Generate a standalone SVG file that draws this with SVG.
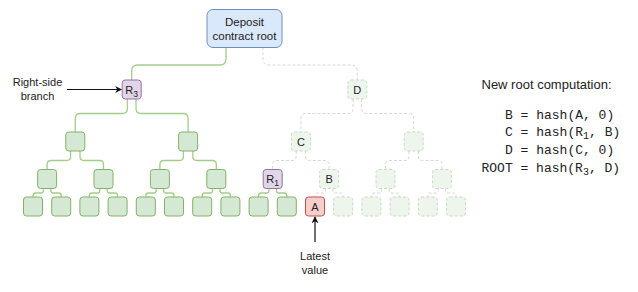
<svg xmlns="http://www.w3.org/2000/svg" width="638" height="292" viewBox="0 0 638 292">
<defs>
<style>
.lbl{font-family:"Liberation Sans",Arial,sans-serif;font-size:11px;fill:#222;text-anchor:middle}
.txt{font-family:"Liberation Sans",Arial,sans-serif;fill:#222}
.mono{font-family:"Liberation Mono","Courier New",monospace;font-size:13px;fill:#222}
.g{fill:#d5e8d4;stroke:#82b366;stroke-width:1}
.f{fill:#eef5ec;stroke:#c6dcbd;stroke-width:1;stroke-dasharray:3 2}
.p{fill:#e1d5e7;stroke:#9673a6;stroke-width:1}
.r{fill:#f8cecc;stroke:#b85450;stroke-width:1}
.root{fill:#dae8fc;stroke:#6c8ebf;stroke-width:1}
.eg{fill:none;stroke:#a3cd8b;stroke-width:1.3}
.ef{fill:none;stroke:#d6d6d6;stroke-width:1;stroke-dasharray:3 2}
.arr{fill:none;stroke:#111;stroke-width:1.2}
</style>
<marker id="ah" viewBox="0 0 10 10" refX="9" refY="5" markerWidth="7" markerHeight="7" orient="auto" markerUnits="userSpaceOnUse">
<path d="M0,0 L10,5 L0,10 L3,5 z" fill="#111"/>
</marker>
</defs>
<rect width="638" height="292" fill="#ffffff"/>

<g id="connectors">
<!-- root -->
<path class="eg" d="M226 47 V59 Q226 65 220 65 H137.7 Q131.7 65 131.7 71 V80"/>
<path class="ef" d="M263 47 V59 Q263 65 269 65 H351.3 Q357.3 65 357.3 71 V80"/>
<!-- level 1 -->
<path class="eg" d="M127.4 99 V108.5 Q127.4 113.5 122.4 113.5 H80.3 Q75.3 113.5 75.3 118.5 V132"/>
<path class="eg" d="M136 99 V108.5 Q136 113.5 141 113.5 H183.1 Q188.1 113.5 188.1 118.5 V132"/>
<path class="ef" d="M353 99 V108.5 Q353 113.5 348 113.5 H305.9 Q300.9 113.5 300.9 118.5 V132"/>
<path class="ef" d="M361.6 99 V108.5 Q361.6 113.5 366.6 113.5 H408.7 Q413.7 113.5 413.7 118.5 V132"/>
<!-- level 2 -->
<path class="eg" d="M70.6 151 V156.5 Q70.6 160.5 66.6 160.5 H51.1 Q47.1 160.5 47.1 164.5 V169.5"/>
<path class="eg" d="M80 151 V156.5 Q80 160.5 84 160.5 H99.5 Q103.5 160.5 103.5 164.5 V169.5"/>
<path class="eg" d="M183.4 151 V156.5 Q183.4 160.5 179.4 160.5 H163.9 Q159.9 160.5 159.9 164.5 V169.5"/>
<path class="eg" d="M192.8 151 V156.5 Q192.8 160.5 196.8 160.5 H212.3 Q216.3 160.5 216.3 164.5 V169.5"/>
<path class="ef" d="M296.2 151 V156.5 Q296.2 160.5 292.2 160.5 H276.7 Q272.7 160.5 272.7 164.5 V169.5"/>
<path class="ef" d="M305.6 151 V156.5 Q305.6 160.5 309.6 160.5 H325.1 Q329.1 160.5 329.1 164.5 V169.5"/>
<path class="ef" d="M409 151 V156.5 Q409 160.5 405 160.5 H389.5 Q385.5 160.5 385.5 164.5 V169.5"/>
<path class="ef" d="M418.4 151 V156.5 Q418.4 160.5 422.4 160.5 H437.9 Q441.9 160.5 441.9 164.5 V169.5"/>
<!-- level 3 -->
<path class="eg" d="M43.4 188.5 V190.5 Q43.4 193 40.9 193 H35.5 Q33 193 33 195.5 V197"/>
<path class="eg" d="M50.8 188.5 V190.5 Q50.8 193 53.3 193 H58.7 Q61.2 193 61.2 195.5 V197"/>
<path class="eg" d="M99.8 188.5 V190.5 Q99.8 193 97.3 193 H91.9 Q89.4 193 89.4 195.5 V197"/>
<path class="eg" d="M107.2 188.5 V190.5 Q107.2 193 109.7 193 H115.1 Q117.6 193 117.6 195.5 V197"/>
<path class="eg" d="M156.2 188.5 V190.5 Q156.2 193 153.7 193 H148.3 Q145.8 193 145.8 195.5 V197"/>
<path class="eg" d="M163.6 188.5 V190.5 Q163.6 193 166.1 193 H171.5 Q174 193 174 195.5 V197"/>
<path class="eg" d="M212.6 188.5 V190.5 Q212.6 193 210.1 193 H204.7 Q202.2 193 202.2 195.5 V197"/>
<path class="eg" d="M220 188.5 V190.5 Q220 193 222.5 193 H227.9 Q230.4 193 230.4 195.5 V197"/>
<path class="eg" d="M269 188.5 V190.5 Q269 193 266.5 193 H261.1 Q258.6 193 258.6 195.5 V197"/>
<path class="eg" d="M276.4 188.5 V190.5 Q276.4 193 278.9 193 H284.3 Q286.8 193 286.8 195.5 V197"/>
<path class="ef" d="M325.4 188.5 V190.5 Q325.4 193 322.9 193 H317.5 Q315 193 315 195.5 V197"/>
<path class="ef" d="M332.8 188.5 V190.5 Q332.8 193 335.3 193 H340.7 Q343.2 193 343.2 195.5 V197"/>
<path class="ef" d="M381.8 188.5 V190.5 Q381.8 193 379.3 193 H373.9 Q371.4 193 371.4 195.5 V197"/>
<path class="ef" d="M389.2 188.5 V190.5 Q389.2 193 391.7 193 H397.1 Q399.6 193 399.6 195.5 V197"/>
<path class="ef" d="M438.2 188.5 V190.5 Q438.2 193 435.7 193 H430.3 Q427.8 193 427.8 195.5 V197"/>
<path class="ef" d="M445.6 188.5 V190.5 Q445.6 193 448.1 193 H453.5 Q456 193 456 195.5 V197"/>
<!-- annotation arrows -->
<path class="arr" d="M67 89.5 H121.5" marker-end="url(#ah)"/>
<path class="arr" d="M315 242 V217" marker-end="url(#ah)"/>
</g>

<g id="root">
<rect class="root" x="207" y="9.5" width="75" height="38" rx="6"/>
<text class="lbl" x="244.5" y="26" style="font-size:11.5px">Deposit</text>
<text class="lbl" x="244.5" y="40" style="font-size:11.5px">contract root</text>
</g>

<g id="R3"><rect class="p" x="122.2" y="80" width="19" height="19" rx="3"/><text class="lbl" x="131.7" y="93.5">R<tspan font-size="8.5" dy="3">3</tspan></text></g>
<g id="D"><rect class="f" x="347.8" y="80" width="19" height="19" rx="3"/><text class="lbl" x="357.3" y="93.5">D</text></g>

<g id="n2a"><rect class="g" x="65.8" y="132" width="19" height="19" rx="3"/></g>
<g id="n2b"><rect class="g" x="178.6" y="132" width="19" height="19" rx="3"/></g>
<g id="C"><rect class="f" x="291.4" y="132" width="19" height="19" rx="3"/><text class="lbl" x="300.9" y="145.5">C</text></g>
<g id="n2d"><rect class="f" x="404.2" y="132" width="19" height="19" rx="3"/></g>

<g id="n3a"><rect class="g" x="37.6" y="169.5" width="19" height="19" rx="3"/></g>
<g id="n3b"><rect class="g" x="94" y="169.5" width="19" height="19" rx="3"/></g>
<g id="n3c"><rect class="g" x="150.4" y="169.5" width="19" height="19" rx="3"/></g>
<g id="n3d"><rect class="g" x="206.8" y="169.5" width="19" height="19" rx="3"/></g>
<g id="R1"><rect class="p" x="263.2" y="169.5" width="19" height="19" rx="3"/><text class="lbl" x="272.7" y="183">R<tspan font-size="8.5" dy="3">1</tspan></text></g>
<g id="B"><rect class="f" x="319.6" y="169.5" width="19" height="19" rx="3"/><text class="lbl" x="329.1" y="183">B</text></g>
<g id="n3g"><rect class="f" x="376" y="169.5" width="19" height="19" rx="3"/></g>
<g id="n3h"><rect class="f" x="432.4" y="169.5" width="19" height="19" rx="3"/></g>

<g id="leaf0"><rect class="g" x="23.5" y="197" width="19" height="19" rx="3"/></g>
<g id="leaf1"><rect class="g" x="51.7" y="197" width="19" height="19" rx="3"/></g>
<g id="leaf2"><rect class="g" x="79.9" y="197" width="19" height="19" rx="3"/></g>
<g id="leaf3"><rect class="g" x="108.1" y="197" width="19" height="19" rx="3"/></g>
<g id="leaf4"><rect class="g" x="136.3" y="197" width="19" height="19" rx="3"/></g>
<g id="leaf5"><rect class="g" x="164.5" y="197" width="19" height="19" rx="3"/></g>
<g id="leaf6"><rect class="g" x="192.7" y="197" width="19" height="19" rx="3"/></g>
<g id="leaf7"><rect class="g" x="220.9" y="197" width="19" height="19" rx="3"/></g>
<g id="leaf8"><rect class="g" x="249.1" y="197" width="19" height="19" rx="3"/></g>
<g id="leaf9"><rect class="g" x="277.3" y="197" width="19" height="19" rx="3"/></g>
<g id="A"><rect class="r" x="305.5" y="197" width="19" height="19" rx="3"/><text class="lbl" x="315" y="210.5">A</text></g>
<g id="leaf11"><rect class="f" x="333.7" y="197" width="19" height="19" rx="3"/></g>
<g id="leaf12"><rect class="f" x="361.9" y="197" width="19" height="19" rx="3"/></g>
<g id="leaf13"><rect class="f" x="390.1" y="197" width="19" height="19" rx="3"/></g>
<g id="leaf14"><rect class="f" x="418.3" y="197" width="19" height="19" rx="3"/></g>
<g id="leaf15"><rect class="f" x="446.5" y="197" width="19" height="19" rx="3"/></g>

<g id="label-right-side">
<text class="lbl" x="37.5" y="86">Right-side</text>
<text class="lbl" x="37.5" y="100">branch</text>
</g>
<g id="label-latest">
<text class="lbl" x="315" y="259.5">Latest</text>
<text class="lbl" x="315" y="273.5">value</text>
</g>

<g id="computation">
<text class="txt" x="481.5" y="88.5" font-size="13">New root computation:</text>
<text class="mono" x="505" y="118.5">B = hash(A, 0)</text>
<text class="mono" x="505" y="136.3">C = hash(R<tspan font-size="10" dy="3">1</tspan><tspan dy="-3">, B)</tspan></text>
<text class="mono" x="505" y="154">D = hash(C, 0)</text>
<text class="mono" x="481.5" y="171.8">ROOT = hash(R<tspan font-size="10" dy="3">3</tspan><tspan dy="-3">, D)</tspan></text>
</g>
</svg>
